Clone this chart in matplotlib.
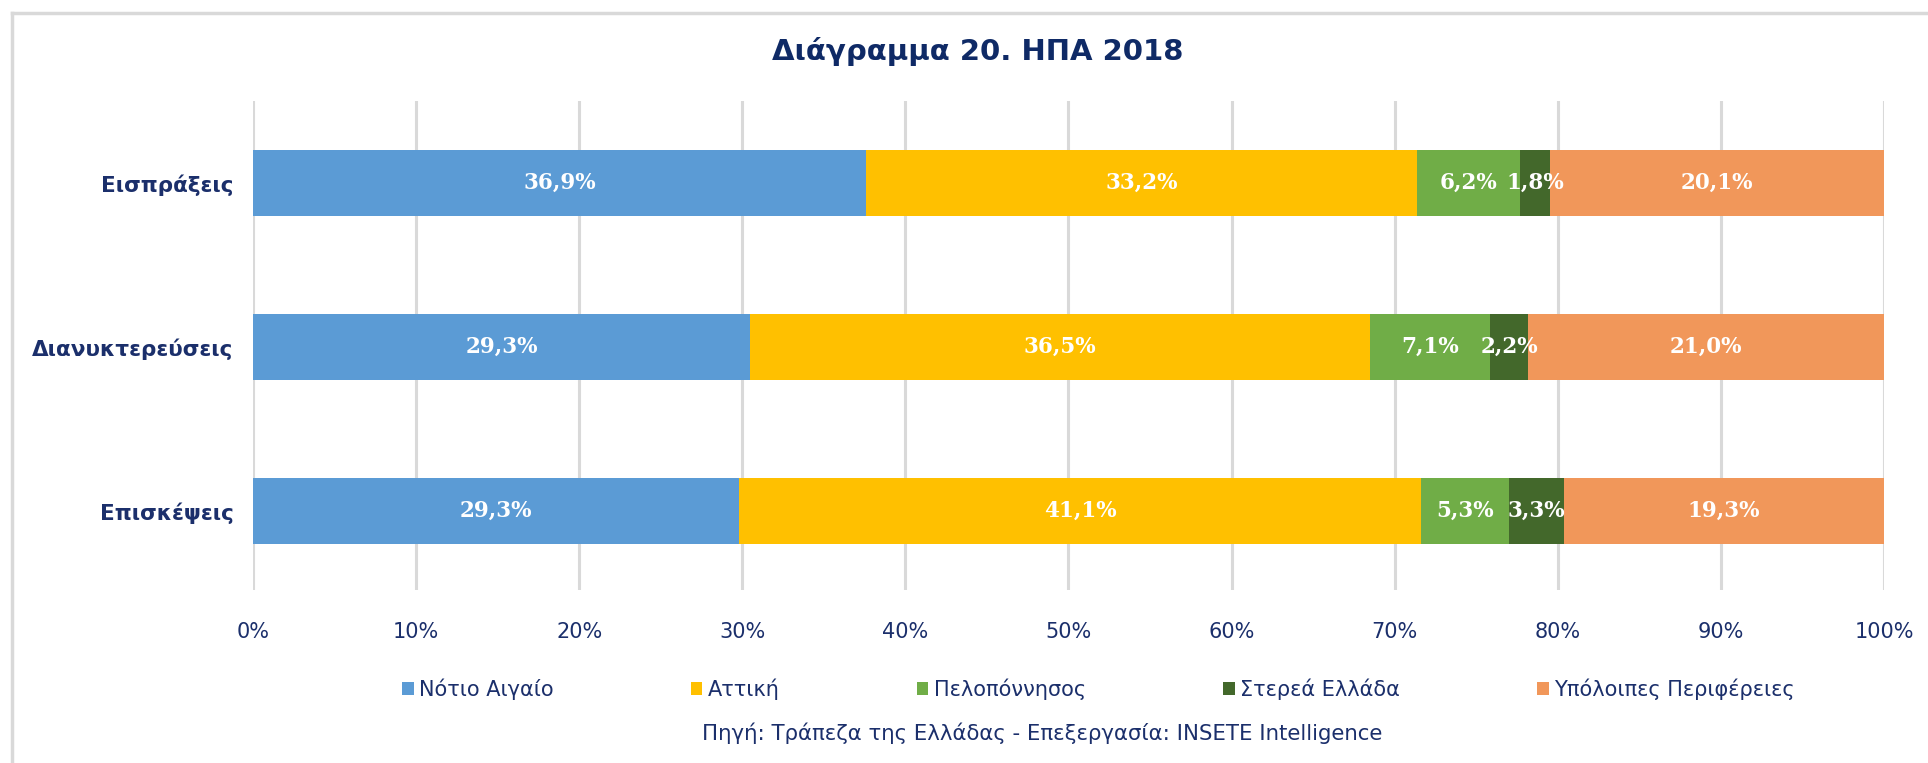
"""
Diagram 20: USA 2018, share of regions (100% stacked horizontal bars).
"""
import numpy as np
import matplotlib
matplotlib.use("Agg")
from matplotlib import pyplot as plt
from matplotlib.patches import Patch
from matplotlib.lines import Line2D

# Data
categories = ["Εισπράξεις", "Διανυκτερεύσεις", "Επισκέψεις"]
regions = ["Νότιο Αιγαίο", "Αττική", "Πελοπόννησος", "Στερεά Ελλάδα",
           "Υπόλοιπες Περιφέρειες"]
notio_aigaio = [36.9, 29.3, 29.3]
attiki = [33.2, 36.5, 41.1]
peloponnisos = [6.2, 7.1, 5.3]
sterea_ellada = [1.8, 2.2, 3.3]
ypoloipes = [20.1, 21.0, 19.3]
x_ticks = [0, 10, 20, 30, 40, 50, 60, 70, 80, 90, 100]

colors = ["#5B9BD5", "#FFC000", "#70AD47", "#43682B", "#F1975A"]
navy = "#1B2F6B"
title_color = "#0F2A66"

series = np.array([notio_aigaio, attiki, peloponnisos, sterea_ellada, ypoloipes])
shares = series / series.sum(axis=0) * 100

fig = plt.figure(figsize=(19.28, 7.63), dpi=100)
ax = fig.add_axes([0.1312, 0.2267, 0.9772 - 0.1312, 0.8676 - 0.2267])

y = np.arange(len(categories))
left = np.zeros(len(categories))
for i, name in enumerate(regions):
    ax.barh(y, shares[i], left=left, height=0.40, color=colors[i],
            label=name, zorder=3)
    for j in range(len(categories)):
        ax.text(left[j] + shares[i][j] / 2, y[j],
                f"{series[i][j]:.1f}%".replace(".", ","),
                ha="center", va="center", color="white", fontsize=15.5,
                fontweight="bold", family="DejaVu Serif", zorder=4)
    left = left + shares[i]

ax.set_xlim(0, 100)
ax.set_ylim(2.48, -0.5)
ax.set_xticks(x_ticks)
ax.set_xticklabels([f"{t}%" for t in x_ticks])
ax.set_yticks(y)
ax.set_yticklabels(categories, fontweight="bold", fontsize=15.5, color=navy)
ax.tick_params(axis="x", length=0, pad=23, labelsize=15, labelcolor=navy)
ax.tick_params(axis="y", length=0, pad=14)
ax.grid(axis="x", color="#D9D9D9", linewidth=2.2, zorder=0)
for spine in ax.spines.values():
    spine.set_visible(False)

fig.suptitle("Διάγραμμα 20. ΗΠΑ 2018", x=0.507, y=0.932, va="center",
             fontsize=21, fontweight="bold", color=title_color)

handles = [Patch(facecolor=c, edgecolor="none") for c in colors]
leg = fig.legend(handles, regions, loc="center", bbox_to_anchor=(0.5697, 0.097),
                 ncol=5, frameon=False, handlelength=0.55, handleheight=0.55,
                 handletextpad=0.25, columnspacing=6.6,
                 prop={"family": "DejaVu Sans", "size": 15})
for t in leg.get_texts():
    t.set_color(navy)

fig.text(0.5405, 0.039, "Πηγή: Τράπεζα της Ελλάδας - Επεξεργασία: INSETE Intelligence",
         ha="center", va="center", fontsize=15.3, color=navy)

# chart frame (left and top edges)
fig.add_artist(Line2D([12 / 1928, 12 / 1928], [0, 1 - 13 / 763],
                      color="#D9D9D9", linewidth=2.5))
fig.add_artist(Line2D([12 / 1928, 1], [1 - 13 / 763, 1 - 13 / 763],
                      color="#D9D9D9", linewidth=2.5))

fig.savefig("out.png", dpi=100, facecolor="white")
